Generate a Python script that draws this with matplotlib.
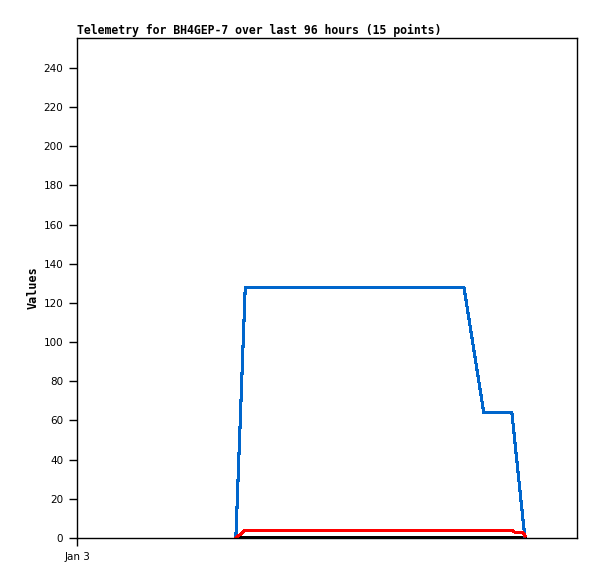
import matplotlib
matplotlib.use("Agg")
import matplotlib.pyplot as plt

# hours since Jan 3 00:00
hours = [30.5, 32.3, 38, 44, 50, 56, 62, 68, 74.3, 78.1, 81, 83.5, 84.0, 85.6, 86.0]
blue_vals = [0, 128, 128, 128, 128, 128, 128, 128, 128, 64, 64, 64, 51, 10, 0]
red_vals = [0, 4, 4, 4, 4, 4, 4, 4, 4, 4, 4, 4, 3, 3, 1]
black_vals = [0] * 15

y_ticks = list(range(0, 241, 20))
x_tick_pos = [0]
x_tick_labels = ["Jan 3"]

fig = plt.figure(figsize=(5.97, 5.79), dpi=100)
ax = fig.add_axes([77 / 597, 41 / 579, 500 / 597, 500 / 579])

ax.plot(hours, black_vals, color="black", lw=1.5, antialiased=False)
ax.plot(hours, blue_vals, color="#0066cc", lw=1.5, antialiased=False)
ax.plot(hours, red_vals, color="#ff0000", lw=1.5, antialiased=False)

ax.set_xlim(0, 96)
ax.set_ylim(0, 255.3)
ax.set_yticks(y_ticks)
ax.set_xticks(x_tick_pos)
ax.set_xticklabels(x_tick_labels)
ax.tick_params(axis="both", direction="out", length=6, width=1, labelsize=7.5, pad=4)

for s in ax.spines.values():
    s.set_linewidth(1)

ax.set_title("Telemetry for BH4GEP-7 over last 96 hours (15 points)",
             loc="left", fontsize=8.3, fontweight="bold", family="DejaVu Sans Mono", pad=3)
ax.set_ylabel("Values", fontsize=8.5, fontweight="bold", family="DejaVu Sans Mono", labelpad=3)

plt.savefig("out.png", dpi=100)
